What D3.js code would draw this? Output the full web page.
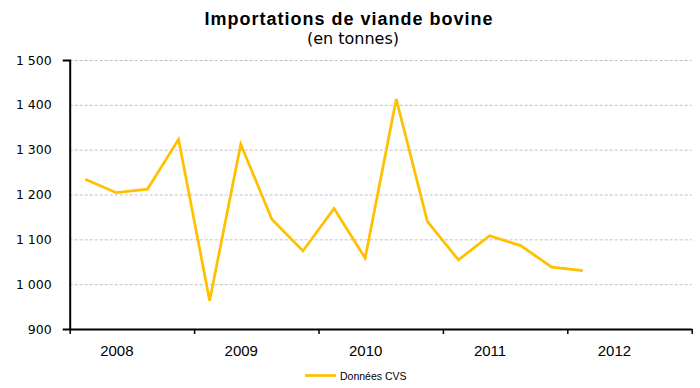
<!DOCTYPE html>
<html lang="fr">
<head>
<meta charset="utf-8">
<script src="https://cdn.jsdelivr.net/npm/d3@7"></script>
<style>
  html, body { margin: 0; padding: 0; background: #fff; }
  svg { display: block; }
</style>
</head>
<body>
<svg id="chart" width="700" height="388"></svg>
<script>
// Quarterly seasonally adjusted beef imports, 2008 T1 -> 2012 T1
const years = ["2008", "2009", "2010", "2011", "2012"];
const quartersPerYear = 4;
const values = [1234, 1204, 1212, 1323, 963, 1312, 1145, 1074, 1169, 1058,
                1413, 1140, 1054, 1108, 1086, 1038, 1030];
const yTicks = [900, 1000, 1100, 1200, 1300, 1400, 1500];
const seriesName = "Données CVS";
const title = "Importations de viande bovine";
const subtitle = "(en tonnes)";

(function draw() {
  const svg = d3.select("#chart");
  const plotLeft = 69.7, plotRight = 691.7, plotTop = 60, plotBottom = 329;
  const gold = "#FFC000";

  // quarter index scale: 0 .. 20 quarters across the axis
  const x = d3.scaleLinear().domain([0, years.length * quartersPerYear]).range([plotLeft, plotRight]);
  const y = d3.scaleLinear().domain([900, 1500]).range([plotBottom, plotTop]);

  const fr = d3.formatLocale({ decimal: ",", thousands: " ", grouping: [3], currency: ["", " €"] });
  const fmt = fr.format(",d");

  // gridlines
  svg.append("g")
    .attr("transform", `translate(${plotLeft},0)`)
    .call(d3.axisLeft(y).tickValues(yTicks.filter(v => v > 900)).tickSize(-(plotRight - plotLeft)).tickFormat(""))
    .call(g => g.select(".domain").remove())
    .call(g => g.selectAll("line")
      .attr("stroke", "#c0c0c0").attr("stroke-width", 1).attr("stroke-dasharray", "3,2"));

  // y axis
  svg.append("g")
    .attr("transform", `translate(${plotLeft},0)`)
    .call(d3.axisLeft(y).tickValues(yTicks).tickSizeInner(0).tickSizeOuter(7).tickPadding(18).tickFormat(fmt))
    .call(g => g.select(".domain").attr("stroke", "#000").attr("stroke-width", 2))
    .call(g => g.selectAll("text")
      .attr("font-family", "DejaVu Sans, Verdana, sans-serif").attr("font-size", 12.5).attr("fill", "#000"));

  // x axis: year boundaries
  const yearBounds = d3.range(0, years.length + 1).map(i => i * quartersPerYear);
  svg.append("g")
    .attr("transform", `translate(0,${plotBottom})`)
    .call(d3.axisBottom(x).tickValues(yearBounds).tickSize(5).tickSizeOuter(0).tickFormat(""))
    .call(g => g.select(".domain").attr("stroke", "#000").attr("stroke-width", 2))
    .call(g => g.selectAll("line").attr("stroke", "#000").attr("stroke-width", 1.5));

  // x axis: year labels
  svg.append("g")
    .attr("transform", `translate(0,${plotBottom})`)
    .call(d3.axisBottom(x)
      .tickValues(years.map((d, i) => i * quartersPerYear + 1.5))
      .tickSize(0).tickPadding(16)
      .tickFormat((d, i) => years[i]))
    .call(g => g.select(".domain").remove())
    .call(g => g.selectAll("text")
      .attr("font-family", "Liberation Sans, Arial, sans-serif").attr("font-size", 15).attr("fill", "#000"));

  // series line
  const line = d3.line()
    .x((d, i) => x(i + 0.5))
    .y(d => y(d));
  svg.append("path")
    .datum(values)
    .attr("d", line)
    .attr("fill", "none")
    .attr("stroke", gold)
    .attr("stroke-width", 2.75)
    .attr("stroke-linejoin", "miter");

  // titles
  svg.append("text")
    .attr("x", 349).attr("y", 25)
    .attr("text-anchor", "middle")
    .attr("font-family", "Liberation Sans, Arial, sans-serif")
    .attr("font-size", 18).attr("font-weight", "bold").attr("letter-spacing", 1)
    .text(title);
  svg.append("text")
    .attr("x", 353).attr("y", 44)
    .attr("text-anchor", "middle")
    .attr("font-family", "DejaVu Sans, Verdana, sans-serif")
    .attr("font-size", 16)
    .text(subtitle);

  // legend
  const legend = svg.append("g").attr("transform", "translate(305,375.5)");
  legend.append("line")
    .attr("x1", 0).attr("x2", 31).attr("y1", 0).attr("y2", 0)
    .attr("stroke", gold).attr("stroke-width", 2.75);
  legend.append("text")
    .attr("x", 35).attr("y", 4)
    .attr("font-family", "Liberation Sans, Arial, sans-serif")
    .attr("font-size", 10.5).attr("fill", "#000")
    .text(seriesName);
})();
</script>
</body>
</html>
